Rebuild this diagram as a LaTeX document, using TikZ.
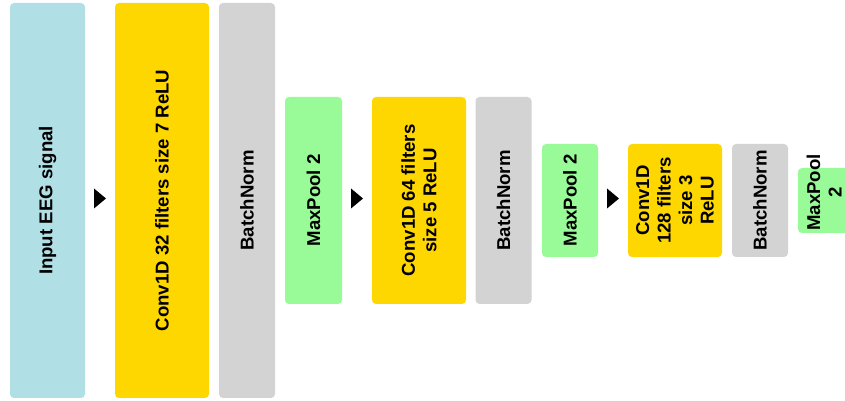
\documentclass[tikz,border=0pt]{standalone}
\usepackage{fontspec}
\setmainfont{Liberation Sans}
\usetikzlibrary{calc}
\definecolor{inputblue}{RGB}{176,224,230}
\definecolor{convgold}{RGB}{255,215,0}
\definecolor{normgray}{RGB}{211,211,211}
\definecolor{poolgreen}{RGB}{152,251,152}
\begin{document}
\begin{tikzpicture}[x=1pt,y=1pt]
        \tikzstyle{layer}=[rounded corners=4pt,inner sep=0pt]
        \tikzstyle{txt}=[rotate=90,align=center,inner sep=0pt,font=\fontsize{18.6}{21.5}\selectfont\bfseries]
        \tikzstyle{tri}=[fill=black]
        \useasboundingbox (0,0) rectangle (845,401);
       \begin{scope}
         % boxes
         \node [layer,fill=inputblue,minimum width=75,minimum height=395] (inp) at (47.5,200.5) {};
         \node [layer,fill=convgold,minimum width=94,minimum height=395] (conv1) at (162,200.5) {};
         \node [layer,fill=normgray,minimum width=56,minimum height=395] (bn1) at (247,200.5) {};
         \node [layer,fill=poolgreen,minimum width=57,minimum height=207] (pool1) at (313.5,200.5) {};
         \node [layer,fill=convgold,minimum width=94,minimum height=207] (conv2) at (419,200.5) {};
         \node [layer,fill=normgray,minimum width=56,minimum height=207] (bn2) at (503.5,200.5) {};
         \node [layer,fill=poolgreen,minimum width=56,minimum height=113] (pool2) at (570,200.5) {};
         \node [layer,fill=convgold,minimum width=94,minimum height=113] (conv3) at (675,200.5) {};
         \node [layer,fill=normgray,minimum width=56,minimum height=113] (bn3) at (760,200.5) {};
         \node [layer,fill=poolgreen,minimum width=57,minimum height=65] (pool3) at (826.5,200.5) {};
         % labels
         \node [txt] (inp-t) at (inp) {Input EEG signal};
         \node [txt] (conv1-t) at (conv1) {Conv1D 32 filters size 7 ReLU};
         \node [txt] (bn1-t) at (bn1) {BatchNorm};
         \node [txt] (pool1-t) at (pool1) {MaxPool 2};
         \node [txt] (conv2-t) at (conv2) {Conv1D 64 filters\\size 5 ReLU};
         \node [txt] (bn2-t) at (bn2) {BatchNorm};
         \node [txt] (pool2-t) at (pool2) {MaxPool 2};
         \node [txt] (conv3-t) at (conv3) {Conv1D\\128 filters\\size 3\\ReLU};
         \node [txt] (bn3-t) at (bn3) {BatchNorm};
         \node [txt] (pool3-t) at ($(pool3)+(-2.5,8)$) {MaxPool\\2};
         % arrow heads
         \coordinate (a1) at ($(inp.east)!0.5!(conv1.west)+(0,2)$);
         \coordinate (a2) at ($(pool1.east)!0.5!(conv2.west)+(0,2)$);
         \coordinate (a3) at ($(pool2.east)!0.5!(conv3.west)+(0,2)$);
         \fill [tri] ($(a1)+(-6,10)$) -- ++(12,-10) -- ++(-12,-10) -- cycle;
         \fill [tri] ($(a2)+(-6,10)$) -- ++(12,-10) -- ++(-12,-10) -- cycle;
         \fill [tri] ($(a3)+(-6,10)$) -- ++(12,-10) -- ++(-12,-10) -- cycle;
        \end{scope}
      \end{tikzpicture}
\end{document}
